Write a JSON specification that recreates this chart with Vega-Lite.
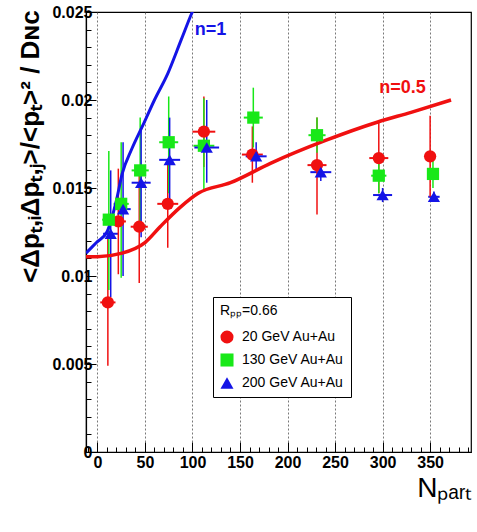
{
  "$schema": "https://vega.github.io/schema/vega-lite/v6.json",
  "width": 385,
  "height": 440,
  "autosize": "none",
  "padding": {"left": 86, "top": 12, "right": 6, "bottom": 80},
  "background": "white",
  "config": {
    "view": {"stroke": "black", "strokeWidth": 1.2},
    "font": "Liberation Sans",
    "axis": {
      "labelFont": "Liberation Sans",
      "titleFont": "Liberation Sans",
      "labelColor": "black", "titleColor": "black", "tickColor": "black", "domainColor": "black"
    },
    "legend": {
      "labelFont": "Liberation Sans",
      "titleFont": "Liberation Sans"
    }
  },
  "datasets": {
    "points": [
      {"series": "20 GeV Au+Au", "N": 11, "v": 0.0085, "vlo": 0.0049, "vhi": 0.0121, "nlo": 3, "nhi": 19},
      {"series": "20 GeV Au+Au", "N": 22, "v": 0.0131, "vlo": 0.0101, "vhi": 0.0161, "nlo": 14, "nhi": 30},
      {"series": "20 GeV Au+Au", "N": 44, "v": 0.0128, "vlo": 0.0096, "vhi": 0.0160, "nlo": 35, "nhi": 53},
      {"series": "20 GeV Au+Au", "N": 74, "v": 0.0141, "vlo": 0.0116, "vhi": 0.0166, "nlo": 63, "nhi": 85},
      {"series": "20 GeV Au+Au", "N": 112, "v": 0.0182, "vlo": 0.0162, "vhi": 0.0202, "nlo": 100, "nhi": 124},
      {"series": "20 GeV Au+Au", "N": 163, "v": 0.0169, "vlo": 0.0153, "vhi": 0.0185, "nlo": 152, "nhi": 174},
      {"series": "20 GeV Au+Au", "N": 231, "v": 0.0163, "vlo": 0.0135, "vhi": 0.0190, "nlo": 221, "nhi": 241},
      {"series": "20 GeV Au+Au", "N": 296, "v": 0.0167, "vlo": 0.0147, "vhi": 0.0188, "nlo": 286, "nhi": 306},
      {"series": "20 GeV Au+Au", "N": 350, "v": 0.0168, "vlo": 0.0145, "vhi": 0.0191, "nlo": 344, "nhi": 356},
      {"series": "130 GeV Au+Au", "N": 12, "v": 0.0132, "vlo": 0.0092, "vhi": 0.0171, "nlo": 5, "nhi": 19},
      {"series": "130 GeV Au+Au", "N": 25, "v": 0.0141, "vlo": 0.0099, "vhi": 0.0176, "nlo": 17, "nhi": 33},
      {"series": "130 GeV Au+Au", "N": 45, "v": 0.0160, "vlo": 0.0128, "vhi": 0.0190, "nlo": 36, "nhi": 54},
      {"series": "130 GeV Au+Au", "N": 75, "v": 0.0176, "vlo": 0.0147, "vhi": 0.0202, "nlo": 65, "nhi": 85},
      {"series": "130 GeV Au+Au", "N": 112, "v": 0.0174, "vlo": 0.0149, "vhi": 0.0201, "nlo": 101, "nhi": 123},
      {"series": "130 GeV Au+Au", "N": 164, "v": 0.0190, "vlo": 0.0173, "vhi": 0.0207, "nlo": 154, "nhi": 174},
      {"series": "130 GeV Au+Au", "N": 231, "v": 0.0180, "vlo": 0.0170, "vhi": 0.0190, "nlo": 222, "nhi": 240},
      {"series": "130 GeV Au+Au", "N": 296, "v": 0.0157, "vlo": 0.0147, "vhi": 0.0167, "nlo": 288, "nhi": 304},
      {"series": "130 GeV Au+Au", "N": 353, "v": 0.0158, "vlo": 0.0150, "vhi": 0.0166, "nlo": 347, "nhi": 359},
      {"series": "200 GeV Au+Au", "N": 14, "v": 0.0124, "vlo": 0.0088, "vhi": 0.0160, "nlo": 6, "nhi": 22},
      {"series": "200 GeV Au+Au", "N": 27, "v": 0.0138, "vlo": 0.0100, "vhi": 0.0176, "nlo": 19, "nhi": 35},
      {"series": "200 GeV Au+Au", "N": 46, "v": 0.0153, "vlo": 0.0122, "vhi": 0.0184, "nlo": 36, "nhi": 56},
      {"series": "200 GeV Au+Au", "N": 76, "v": 0.0166, "vlo": 0.0142, "vhi": 0.0190, "nlo": 65, "nhi": 87},
      {"series": "200 GeV Au+Au", "N": 115, "v": 0.0173, "vlo": 0.0153, "vhi": 0.0200, "nlo": 102, "nhi": 128},
      {"series": "200 GeV Au+Au", "N": 167, "v": 0.0168, "vlo": 0.0160, "vhi": 0.0176, "nlo": 156, "nhi": 178},
      {"series": "200 GeV Au+Au", "N": 235, "v": 0.0159, "vlo": 0.0154, "vhi": 0.0165, "nlo": 224, "nhi": 246},
      {"series": "200 GeV Au+Au", "N": 300, "v": 0.0146, "vlo": 0.0142, "vhi": 0.0150, "nlo": 290, "nhi": 310},
      {"series": "200 GeV Au+Au", "N": 354, "v": 0.0145, "vlo": 0.0142, "vhi": 0.0148, "nlo": 348, "nhi": 360}
    ],
    "curves": [
      {"curve": "n=0.5", "N": -12, "v": 0.0111},
      {"curve": "n=0.5", "N": 0, "v": 0.0111},
      {"curve": "n=0.5", "N": 26, "v": 0.0113},
      {"curve": "n=0.5", "N": 50, "v": 0.0119},
      {"curve": "n=0.5", "N": 66, "v": 0.0128},
      {"curve": "n=0.5", "N": 87, "v": 0.0139},
      {"curve": "n=0.5", "N": 106, "v": 0.0147},
      {"curve": "n=0.5", "N": 140, "v": 0.0153},
      {"curve": "n=0.5", "N": 182, "v": 0.0164},
      {"curve": "n=0.5", "N": 240, "v": 0.0177},
      {"curve": "n=0.5", "N": 295, "v": 0.01875},
      {"curve": "n=0.5", "N": 330, "v": 0.0193},
      {"curve": "n=0.5", "N": 372, "v": 0.0200},
      {"curve": "n=1", "N": -12, "v": 0.0113},
      {"curve": "n=1", "N": -1, "v": 0.0119},
      {"curve": "n=1", "N": 10, "v": 0.0125},
      {"curve": "n=1", "N": 20, "v": 0.0143},
      {"curve": "n=1", "N": 26, "v": 0.0158},
      {"curve": "n=1", "N": 36, "v": 0.0172},
      {"curve": "n=1", "N": 49, "v": 0.0187},
      {"curve": "n=1", "N": 60, "v": 0.0200},
      {"curve": "n=1", "N": 74, "v": 0.0215},
      {"curve": "n=1", "N": 88, "v": 0.0234},
      {"curve": "n=1", "N": 99, "v": 0.0249},
      {"curve": "n=1", "N": 108, "v": 0.0260}
    ],
    "labels": [
      {"curve": "n=1", "N": 119, "v": 0.0240},
      {"curve": "n=0.5", "N": 321, "v": 0.0207}
    ]
  },
  "layer": [
    {
      "data": {"name": "points"},
      "mark": {"type": "rule", "strokeWidth": 2},
      "encoding": {
        "x": {"field": "nlo", "type": "quantitative",
          "scale": {"domain": [-12, 393], "nice": false, "zero": false},
          "axis": {
            "values": [0, 50, 100, 150, 200, 250, 300, 350],
            "grid": true, "gridDash": [2, 2], "gridColor": "#555", "gridWidth": 0.8,
            "tickSize": -10, "tickWidth": 1, "domainWidth": 1.2,
            "labelFontSize": 16, "labelFontWeight": "bold", "labelPadding": 12, "labelFlush": false, "format": "d",
            "title": "Nₚₐᵣₜ", "titleFontSize": 28, "titleFontWeight": "normal",
            "titleAnchor": null, "titleAlign": "right", "titleBaseline": "top", "titleX": 386, "titleY": 22
          }
        },
        "x2": {"field": "nhi"},
        "y": {"field": "v", "type": "quantitative",
          "scale": {"domain": [0, 0.025], "nice": false, "zero": true},
          "axis": {
            "values": [0, 0.005, 0.01, 0.015, 0.02, 0.025],
            "labelExpr": "format(datum.value, '~g')",
            "grid": false, "tickSize": -10, "tickWidth": 1, "domainWidth": 1.2,
            "labelFontSize": 16, "labelFontWeight": "bold", "labelPadding": 4, "labelFlush": false,
            "title": "<Δpₜ,ᵢΔpₜ,ⱼ>/<pₜ>²  / Dɴc",
            "titleFontSize": 26, "titleFontWeight": "bold",
            "titleAnchor": null, "titleAlign": "center", "titleBaseline": "middle", "titleAngle": 270,
            "titleX": -56, "titleY": 134
          }
        },
        "color": {"field": "series", "type": "nominal",
          "scale": {"domain": ["20 GeV Au+Au", "130 GeV Au+Au", "200 GeV Au+Au"], "range": ["#f01010", "#18e818", "#1414e6"]},
          "legend": {"title": "Rₚₚ=0.66", "orient": "none", "legendX": 127, "legendY": 285,
            "fillColor": "white", "strokeColor": "black", "padding": 7, "titlePadding": 12,
            "titleFontSize": 14, "titleFontWeight": "normal", "titleColor": "black", "labelFontSize": 14, "labelColor": "black",
            "symbolSize": 170, "rowPadding": 9, "symbolStrokeWidth": 0, "symbolOpacity": 1, "labelOffset": 8}}
      }
    },
    {
      "data": {"name": "points"},
      "mark": {"type": "rule", "strokeWidth": 1.5},
      "encoding": {
        "x": {"field": "N", "type": "quantitative",
          "scale": {"domain": [-12, 393], "nice": false, "zero": false},
          "axis": {
            "orient": "bottom",
            "values": [-10, 10, 20, 30, 40, 60, 70, 80, 90, 110, 120, 130, 140, 160, 170, 180, 190, 210, 220, 230, 240, 260, 270, 280, 290, 310, 320, 330, 340, 360, 370, 380, 390],
            "grid": false, "labels": false, "domain": false, "tickSize": -5, "tickWidth": 1, "title": null
          }
        },
        "y": {"field": "vlo", "type": "quantitative",
          "scale": {"domain": [0, 0.025], "nice": false, "zero": true},
          "axis": {
            "orient": "left",
            "values": [0.001, 0.002, 0.003, 0.004, 0.006, 0.007, 0.008, 0.009, 0.011, 0.012, 0.013, 0.014, 0.016, 0.017, 0.018, 0.019, 0.021, 0.022, 0.023, 0.024],
            "grid": false, "labels": false, "domain": false, "tickSize": -5, "tickWidth": 1, "title": null
          }
        },
        "y2": {"field": "vhi"},
        "color": {"field": "series", "type": "nominal",
          "scale": {"domain": ["20 GeV Au+Au", "130 GeV Au+Au", "200 GeV Au+Au"], "range": ["#f01010", "#18e818", "#1414e6"]},
          "legend": {"title": "Rₚₚ=0.66", "orient": "none", "legendX": 127, "legendY": 285,
            "fillColor": "white", "strokeColor": "black", "padding": 7, "titlePadding": 12,
            "titleFontSize": 14, "titleFontWeight": "normal", "titleColor": "black", "labelFontSize": 14, "labelColor": "black",
            "symbolSize": 170, "rowPadding": 9, "symbolStrokeWidth": 0, "symbolOpacity": 1, "labelOffset": 8}}
      }
    },
    {
      "data": {"name": "curves"},
      "transform": [{"filter": "datum.curve === 'n=0.5'"}],
      "mark": {"type": "line", "color": "#f01010", "strokeWidth": 3.5, "interpolate": "monotone", "clip": true},
      "encoding": {
        "x": {"field": "N", "type": "quantitative", "scale": {"domain": [-12, 393], "nice": false, "zero": false}, "axis": null},
        "y": {"field": "v", "type": "quantitative", "scale": {"domain": [0, 0.025], "nice": false, "zero": true}, "axis": null}
      }
    },
    {
      "data": {"name": "curves"},
      "transform": [{"filter": "datum.curve === 'n=1'"}],
      "mark": {"type": "line", "color": "#1414e6", "strokeWidth": 3, "interpolate": "monotone", "clip": true},
      "encoding": {
        "x": {"field": "N", "type": "quantitative", "scale": {"domain": [-12, 393], "nice": false, "zero": false}, "axis": null},
        "y": {"field": "v", "type": "quantitative", "scale": {"domain": [0, 0.025], "nice": false, "zero": true}, "axis": null}
      }
    },
    {
      "data": {"name": "points"},
      "mark": {"type": "point", "filled": true, "opacity": 1, "size": 150},
      "encoding": {
        "x": {"field": "N", "type": "quantitative", "scale": {"domain": [-12, 393], "nice": false, "zero": false}, "axis": null},
        "y": {"field": "v", "type": "quantitative", "scale": {"domain": [0, 0.025], "nice": false, "zero": true}, "axis": null},
        "color": {"field": "series", "type": "nominal",
          "scale": {"domain": ["20 GeV Au+Au", "130 GeV Au+Au", "200 GeV Au+Au"], "range": ["#f01010", "#18e818", "#1414e6"]},
          "legend": {"title": "Rₚₚ=0.66", "orient": "none", "legendX": 127, "legendY": 285,
            "fillColor": "white", "strokeColor": "black", "padding": 7, "titlePadding": 12,
            "titleFontSize": 14, "titleFontWeight": "normal", "titleColor": "black", "labelFontSize": 14, "labelColor": "black",
            "symbolSize": 170, "rowPadding": 9, "symbolStrokeWidth": 0, "symbolOpacity": 1, "labelOffset": 8}},
        "shape": {"field": "series", "type": "nominal",
          "scale": {"domain": ["20 GeV Au+Au", "130 GeV Au+Au", "200 GeV Au+Au"], "range": ["circle", "square", "triangle-up"]},
          "legend": {"title": "Rₚₚ=0.66", "orient": "none", "legendX": 127, "legendY": 285,
            "fillColor": "white", "strokeColor": "black", "padding": 7, "titlePadding": 12,
            "titleFontSize": 14, "titleFontWeight": "normal", "titleColor": "black", "labelFontSize": 14, "labelColor": "black",
            "symbolSize": 170, "rowPadding": 9, "symbolStrokeWidth": 0, "symbolOpacity": 1, "labelOffset": 8}}
      }
    },
    {
      "data": {"name": "labels"},
      "transform": [{"filter": "datum.curve === 'n=1'"}],
      "mark": {"type": "text", "color": "#1414e6", "fontSize": 18, "fontWeight": "bold", "font": "Liberation Sans"},
      "encoding": {
        "x": {"field": "N", "type": "quantitative", "scale": {"domain": [-12, 393], "nice": false, "zero": false}, "axis": null},
        "y": {"field": "v", "type": "quantitative", "scale": {"domain": [0, 0.025], "nice": false, "zero": true}, "axis": null},
        "text": {"field": "curve"}
      }
    },
    {
      "data": {"name": "labels"},
      "transform": [{"filter": "datum.curve === 'n=0.5'"}],
      "mark": {"type": "text", "color": "#f01010", "fontSize": 18, "fontWeight": "bold", "font": "Liberation Sans"},
      "encoding": {
        "x": {"field": "N", "type": "quantitative", "scale": {"domain": [-12, 393], "nice": false, "zero": false}, "axis": null},
        "y": {"field": "v", "type": "quantitative", "scale": {"domain": [0, 0.025], "nice": false, "zero": true}, "axis": null},
        "text": {"field": "curve"}
      }
    }
  ],
  "resolve": {"axis": {"x": "independent", "y": "independent"}}
}
